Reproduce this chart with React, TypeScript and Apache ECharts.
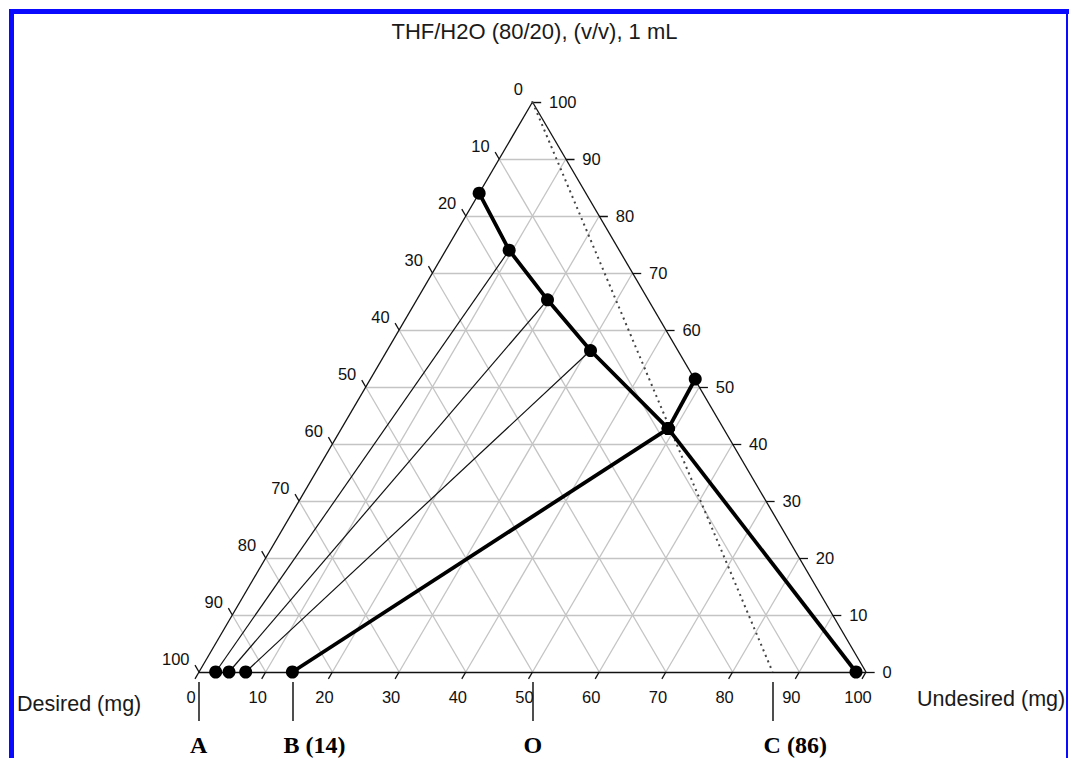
import React, { useEffect, useRef } from "react";
import * as echarts from "echarts";

// ---- data (ternary readings: b = bottom axis value, r = right axis value) ----
const tickValues = [0, 10, 20, 30, 40, 50, 60, 70, 80, 90, 100];
const gridValues = [10, 20, 30, 40, 50, 60, 70, 80, 90];

// upper phase boundary (binodal) points
const curveB = [0, 9.5, 19.6, 30.5, 49.0];
const curveR = [84.0, 74.0, 65.3, 56.4, 42.7];
// branch point on right edge
const branchB = 48.7;
const branchR = 51.4;
// lower right point
const cornerB = 98.5;
const cornerR = 0;
// bottom feed points (b values on bottom axis) tied to curve points
const tieStartB = [2.5, 4.5, 7.0];
const tieEndIndex = [1, 2, 3];
const feedB = 14;
// marker annotations below the bottom axis
const markerLabels = ["A", "B (14)", "O", "C (86)"];
const markerValues = [0, 14, 50, 86];
const dottedEndB = 86;

const title = "THF/H2O (80/20), (v/v), 1 mL";
const leftName = "Desired (mg)";
const rightName = "Undesired (mg)";

const toXY = (b: number, r: number): [number, number] => [b + r / 2, r];

export default function App() {
  const ref = useRef<HTMLDivElement>(null);

  useEffect(() => {
    if (!ref.current) return;
    const chart = echarts.init(ref.current, undefined, { renderer: "svg" });

    const gridLines: any[] = [];
    gridValues.forEach((v) => {
      gridLines.push({ coords: [toXY(0, v), toXY(100 - v, v)] });
      gridLines.push({ coords: [toXY(v, 0), toXY(v, 100 - v)] });
      gridLines.push({ coords: [toXY(100 - v, 0), toXY(0, 100 - v)] });
    });

    const edges = [
      { coords: [toXY(0, 0), toXY(100, 0)] },
      { coords: [toXY(100, 0), toXY(0, 100)] },
      { coords: [toXY(0, 100), toXY(0, 0)] },
    ];

    const ticks: any[] = [];
    tickValues.forEach((v) => {
      const pr = toXY(100 - v, v);
      ticks.push({ coords: [pr, [pr[0] + 1.3, pr[1]]] });
      const pb = toXY(v, 0);
      ticks.push({ coords: [pb, [pb[0] - 0.6, pb[1] - 1.2]] });
      const pl = toXY(0, 100 - v);
      ticks.push({ coords: [pl, [pl[0] - 0.6, pl[1] + 1.2]] });
    });

    const curve = curveB.map((b, i) => toXY(b, curveR[i]));
    const plait = curve[curve.length - 1];
    const ties = tieStartB.map((b, i) => ({
      coords: [toXY(b, 0), curve[tieEndIndex[i]]],
    }));

    const markerLines = markerValues.map((v) => ({
      coords: [
        [v, -1.75],
        [v, -8.6],
      ],
    }));

    const font = "Liberation Sans, Arial, sans-serif";
    const tickLabelStyle = { fontSize: 16.5, color: "#111", fontFamily: font, opacity: 1 };
    const hidden = { color: "rgba(0,0,0,0)", opacity: 1 };

    const thick = (data: any[]) => ({
      type: "line",
      z: 4,
      data,
      symbol: "circle",
      symbolSize: 13,
      itemStyle: { color: "#000", opacity: 1 },
      lineStyle: { color: "#000", width: 3.8 },
    });

    const option: any = {
      animation: false,
      backgroundColor: "#ffffff",
      title: {
        text: title,
        left: "center",
        top: 15,
        textStyle: { fontSize: 22, fontWeight: "normal", color: "#1a1a1a", fontFamily: font },
      },
      grid: { left: 165.65, top: 102, width: 733.7, height: 655.5 },
      xAxis: { type: "value", min: -5, max: 105, show: false },
      yAxis: { type: "value", min: -15, max: 100, show: false },
      series: [
        {
          type: "lines",
          coordinateSystem: "cartesian2d",
          silent: true,
          z: 1,
          lineStyle: { color: "#c4c4c4", width: 1.3, opacity: 1 },
          data: gridLines,
        },
        {
          type: "lines",
          coordinateSystem: "cartesian2d",
          silent: true,
          z: 2,
          lineStyle: { color: "#111", width: 1.3, opacity: 1 },
          data: edges.concat(ticks),
        },
        {
          type: "lines",
          coordinateSystem: "cartesian2d",
          silent: true,
          z: 2,
          lineStyle: { color: "#444", width: 2, opacity: 1, type: [2, 4] },
          data: [{ coords: [toXY(0, 100), toXY(dottedEndB, 0)] }],
        },
        {
          type: "lines",
          coordinateSystem: "cartesian2d",
          silent: true,
          z: 3,
          lineStyle: { color: "#111", width: 1.2, opacity: 1 },
          data: ties,
        },
        {
          type: "lines",
          coordinateSystem: "cartesian2d",
          silent: true,
          z: 2,
          lineStyle: { color: "#222", width: 1.6, opacity: 1 },
          data: markerLines,
        },
        thick(curve),
        thick([plait, toXY(branchB, branchR)]),
        thick([plait, toXY(cornerB, cornerR)]),
        thick([toXY(feedB, 0), plait]),
        {
          type: "scatter",
          z: 5,
          data: tieStartB.map((b) => toXY(b, 0)),
          symbolSize: 13,
          itemStyle: { color: "#000", opacity: 1 },
        },
        // right axis tick labels
        {
          type: "scatter",
          silent: true,
          data: tickValues.map((v) => [...toXY(100 - v, v), v]),
          symbolSize: 1,
          itemStyle: hidden,
          label: {
            show: true,
            position: "right",
            distance: 16,
            formatter: (p: any) => String(p.value[2]),
            ...tickLabelStyle,
          },
        },
        // bottom axis tick labels
        {
          type: "scatter",
          silent: true,
          data: tickValues.map((v) => [...toXY(v, 0), v]),
          symbolSize: 1,
          itemStyle: hidden,
          label: {
            show: true,
            position: "bottom",
            distance: 16,
            offset: [-8, 0],
            formatter: (p: any) => String(p.value[2]),
            ...tickLabelStyle,
          },
        },
        // left axis tick labels
        {
          type: "scatter",
          silent: true,
          data: tickValues.map((v) => [...toXY(0, 100 - v), v]),
          symbolSize: 1,
          itemStyle: hidden,
          label: {
            show: true,
            position: "left",
            distance: 9,
            offset: [0, -13],
            formatter: (p: any) => String(p.value[2]),
            ...tickLabelStyle,
          },
        },
        // marker labels A, B, O, C
        {
          type: "scatter",
          silent: true,
          data: markerValues.map((v, i) => ({ value: [v, -8.6], name: markerLabels[i] })),
          symbolSize: 1,
          itemStyle: hidden,
          label: {
            show: true,
            position: "bottom",
            distance: 11,
            align: "left",
            offset: [-9, 0],
            formatter: (p: any) => p.name,
            fontSize: 24,
            fontWeight: "bold",
            color: "#000",
            opacity: 1,
            fontFamily: "Liberation Serif, Times New Roman, serif",
          },
        },
      ],
      graphic: [
        {
          type: "text",
          left: 17,
          top: 693,
          style: { text: leftName, fontSize: 21.5, fill: "#1a1a1a", fontFamily: font },
        },
        {
          type: "text",
          left: 917,
          top: 688,
          style: { text: rightName, fontSize: 21.5, fill: "#1a1a1a", fontFamily: font },
        },
        { type: "rect", shape: { x: 9, y: 9, width: 1060, height: 5 }, style: { fill: "#0a0aff" } },
        { type: "rect", shape: { x: 9, y: 9, width: 5, height: 749 }, style: { fill: "#0a0aff" } },
        { type: "rect", shape: { x: 1066, y: 9, width: 2, height: 749 }, style: { fill: "#0a0aff" } },
      ],
    };

    chart.setOption(option);
    return () => chart.dispose();
  }, []);

  return (
    <div
      ref={ref}
      style={{ position: "fixed", left: 0, top: 0, width: 1069, height: 758, background: "#fff" }}
    />
  );
}
